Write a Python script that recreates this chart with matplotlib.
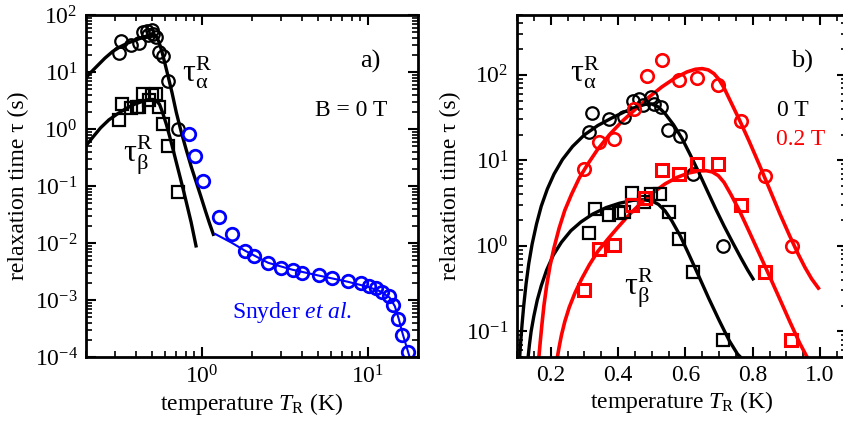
import matplotlib
matplotlib.use('Agg')
import matplotlib.pyplot as plt
from matplotlib.ticker import (LogLocator, NullFormatter, MultipleLocator,
                               LogFormatterSciNotation, FormatStrFormatter)

plt.rcParams['font.family'] = ['Liberation Serif', 'DejaVu Serif']
plt.rcParams['mathtext.fontset'] = 'custom'
plt.rcParams['mathtext.rm'] = 'Liberation Serif'
plt.rcParams['mathtext.it'] = 'Liberation Serif:italic'
plt.rcParams['axes.unicode_minus'] = False

# ---- data: B = 0 T (both panels) ----
T0_circ = [0.314, 0.324, 0.374, 0.419, 0.444, 0.463, 0.473, 0.498, 0.508, 0.528, 0.548, 0.583, 0.622, 0.712]
tau0_circ = [21.5, 35.4, 30.3, 31.8, 49.9, 52, 44, 55, 46, 41.7, 22.5, 19.3, 6.85, 1.0]
T0_sq = [0.314, 0.331, 0.374, 0.404, 0.419, 0.441, 0.476, 0.498, 0.526, 0.550, 0.581, 0.622, 0.712]
tau0_sq = [1.41, 2.7, 2.3, 2.4, 2.45, 4.1, 3.24, 3.98, 4.05, 2.47, 1.21, 0.5, 0.08]

# ---- data: B = 0.2 T ----
T2_circ = [0.299, 0.344, 0.389, 0.446, 0.486, 0.530, 0.581, 0.635, 0.697, 0.765, 0.836, 0.918]
tau2_circ = [7.83, 16.4, 17.7, 39.8, 95.6, 147, 88, 91, 76, 29, 6.5, 1.0]
T2_sq = [0.299, 0.344, 0.389, 0.441, 0.480, 0.530, 0.581, 0.635, 0.697, 0.765, 0.836, 0.914]
tau2_sq = [0.30, 0.91, 1.03, 2.98, 3.64, 7.7, 7.0, 9.1, 9.1, 3.0, 0.5, 0.08]

# ---- fit curves, panel b ----
fitA0_T = [0.108, 0.111, 0.115, 0.120, 0.127, 0.135, 0.145, 0.158, 0.172, 0.190, 0.210, 0.235,
           0.265, 0.300, 0.340, 0.380, 0.420, 0.455, 0.480, 0.500, 0.520, 0.540, 0.565, 0.590,
           0.615, 0.640, 0.665, 0.690, 0.715, 0.740, 0.765, 0.785, 0.801]
fitA0_tau = [0.05, 0.075, 0.12, 0.2, 0.36, 0.62, 1.05, 1.8, 2.9, 4.6, 6.9, 10.2,
             14.5, 19.8, 25.5, 31, 37, 42, 45, 45.5, 42, 35, 26, 18,
             11.5, 7.2, 4.4, 2.7, 1.7, 1.1, 0.72, 0.52, 0.41]
fitA2_T = [0.165, 0.169, 0.174, 0.180, 0.188, 0.198, 0.210, 0.225, 0.242, 0.262, 0.285, 0.310,
           0.340, 0.375, 0.410, 0.450, 0.490, 0.530, 0.570, 0.605, 0.630, 0.650, 0.668, 0.685,
           0.700, 0.715, 0.735, 0.760, 0.790, 0.820, 0.850, 0.880, 0.910, 0.935, 0.955, 0.975, 0.995]
fitA2_tau = [0.05, 0.075, 0.12, 0.2, 0.34, 0.58, 0.95, 1.6, 2.6, 4.0, 6.2, 9.0,
             13.5, 20, 28, 39, 54, 72, 92, 108, 116, 118, 114, 103,
             88, 70, 48, 30, 16.5, 8.8, 4.6, 2.4, 1.3, 0.8, 0.56, 0.41, 0.32]
fitB0_T = [0.133, 0.137, 0.142, 0.150, 0.160, 0.172, 0.188, 0.208, 0.232, 0.260, 0.290, 0.325,
           0.365, 0.405, 0.445, 0.475, 0.500, 0.520, 0.540, 0.560, 0.585, 0.610, 0.640, 0.670,
           0.700, 0.730, 0.755, 0.775]
fitB0_tau = [0.05, 0.07, 0.10, 0.15, 0.23, 0.34, 0.52, 0.78, 1.1, 1.5, 1.9, 2.35,
             2.8, 3.15, 3.4, 3.45, 3.35, 3.05, 2.55, 1.95, 1.3, 0.8, 0.44, 0.24,
             0.135, 0.078, 0.054, 0.045]
fitB2_T = [0.220, 0.225, 0.232, 0.242, 0.255, 0.272, 0.292, 0.315, 0.340, 0.370, 0.400, 0.435,
           0.470, 0.505, 0.540, 0.575, 0.610, 0.640, 0.662, 0.680, 0.698, 0.715, 0.735, 0.760,
           0.790, 0.820, 0.850, 0.880, 0.910, 0.940, 0.965]
fitB2_tau = [0.05, 0.065, 0.09, 0.13, 0.19, 0.28, 0.41, 0.6, 0.86, 1.2, 1.65, 2.35,
             3.2, 4.2, 5.3, 6.3, 7.1, 7.5, 7.55, 7.3, 6.6, 5.5, 4.0, 2.6,
             1.45, 0.8, 0.44, 0.24, 0.13, 0.072, 0.047]

# ---- fit curves, panel a ----
fitA_left_T = [0.198, 0.215, 0.235, 0.26, 0.29, 0.32, 0.355, 0.39, 0.425, 0.46, 0.49, 0.51, 0.53,
               0.55, 0.575, 0.60, 0.63, 0.66, 0.70, 0.75, 0.80, 0.86, 0.92, 0.98, 1.05, 1.11, 1.17]
fitA_left_tau = [7.74, 10, 13, 17.5, 23, 27.5, 32, 35.5, 39, 42.5, 45, 45.5, 42,
                 34, 22, 13.5, 7.6, 4.3, 1.95, 0.88, 0.45, 0.22, 0.12, 0.068, 0.036, 0.022, 0.0142]
fitB_left_T = [0.198, 0.22, 0.245, 0.275, 0.31, 0.35, 0.39, 0.43, 0.47, 0.505, 0.53, 0.555, 0.58,
               0.61, 0.64, 0.67, 0.70, 0.74, 0.78, 0.82, 0.86, 0.92]
fitB_left_tau = [0.49, 0.72, 1.05, 1.45, 1.85, 2.3, 2.7, 3.0, 3.25, 3.3, 3.15, 2.7, 1.9,
                 1.2, 0.72, 0.43, 0.26, 0.138, 0.075, 0.041, 0.023, 0.0089]

# ---- Snyder et al. ----
snyder_T = [0.838, 0.907, 1.009, 1.273, 1.513, 1.82, 2.046, 2.50, 3.01, 3.53, 4.02, 5.07, 6.05,
            7.6, 9.07, 10.1, 11.1, 12.2, 13.3, 14.2, 15.1, 16.0, 17.4]
snyder_tau = [0.805, 0.336, 0.122, 0.029, 0.0142, 0.0073, 0.0059, 0.0044, 0.0036, 0.00336,
              0.00302, 0.00275, 0.00247, 0.00215, 0.00196, 0.00176, 0.0016, 0.0014, 0.00117,
              0.00082, 0.00046, 0.00024, 0.000124]
snyder_line_T = [1.2, 1.5, 1.82, 2.5, 3.5, 5.0, 7.5, 10, 12, 13.5, 14.5, 15.3, 16.2, 17.8]
snyder_line_tau = [0.0144, 0.0102, 0.0073, 0.0045, 0.0034, 0.0027, 0.0021, 0.0017, 0.0014,
                   0.0011, 0.00078, 0.00047, 0.00025, 0.0001]

BLUE = '#0000ff'
RED = '#ff0000'
FS = 17
circ = dict(marker='o', mfc='none', ms=9, mew=1.6, ls='none')
sq = dict(marker='s', mfc='none', ms=8, mew=1.6, ls='none')
TAU_A = r'$\mathrm{\tau}_{\mathrm{\alpha}}^{\mathrm{R}}$'
TAU_B = r'$\mathrm{\tau}_{\mathrm{\beta}}^{\mathrm{R}}$'


def style_axis(ax):
    for s in ax.spines.values():
        s.set_linewidth(2)
    ax.tick_params(which='both', direction='in', top=True, right=True, labelsize=FS)
    ax.tick_params(which='major', length=7, width=1.5, pad=6)
    ax.tick_params(which='minor', length=4, width=1.2)
    ax.set_xlabel(r'temperature $T_{\mathrm{R}}$ (K)', fontsize=FS, labelpad=2)
    ax.set_ylabel(u'relaxation time \u03c4 (s)', fontsize=FS, labelpad=4)


fig = plt.figure(figsize=(8.43, 4.32), dpi=100)
ax1 = fig.add_axes([86 / 843, 75 / 432, 332 / 843, 342 / 432])
ax2 = fig.add_axes([517 / 843, 75 / 432, 330 / 843, 342 / 432])

# panel a
ax1.plot(fitA_left_T, fitA_left_tau, color='k', lw=2.4)
ax1.plot(fitB_left_T, fitB_left_tau, color='k', lw=2.4)
ax1.plot(snyder_line_T, snyder_line_tau, color=BLUE, lw=1.5)
ax1.plot(T0_circ, tau0_circ, mec='k', **circ)
ax1.plot(T0_sq, tau0_sq, mec='k', **sq)
ax1.plot(snyder_T, snyder_tau, mec=BLUE, **dict(circ, mew=2.0))
ax1.set_xscale('log')
ax1.set_yscale('log')
ax1.set_xlim(0.2, 20)
ax1.set_ylim(1e-4, 1e2)
ax1.xaxis.set_major_locator(LogLocator(base=10))
ax1.xaxis.set_minor_locator(LogLocator(base=10, subs=range(2, 10)))
ax1.yaxis.set_major_locator(LogLocator(base=10, numticks=20))
ax1.yaxis.set_minor_locator(LogLocator(base=10, subs=range(2, 10), numticks=20))
ax1.xaxis.set_major_formatter(LogFormatterSciNotation())
ax1.xaxis.set_minor_formatter(NullFormatter())
ax1.yaxis.set_minor_formatter(NullFormatter())
style_axis(ax1)

ax1.text(0.855, 0.865, 'a)', transform=ax1.transAxes, fontsize=FS + 2, ha='center', va='center')
ax1.text(0.80, 0.72, 'B = 0 T', transform=ax1.transAxes, fontsize=FS, ha='center', va='center')
ax1.text(0.335, 0.83, TAU_A, transform=ax1.transAxes, fontsize=FS + 6, ha='center', va='center')
ax1.text(0.155, 0.59, TAU_B, transform=ax1.transAxes, fontsize=FS + 6, ha='center', va='center')
ax1.text(0.62, 0.13, r'Snyder $\mathit{et\ al.}$', transform=ax1.transAxes, fontsize=FS,
         ha='center', va='center', color=BLUE)

# panel b
ax2.plot(fitA0_T, fitA0_tau, color='k', lw=2.4)
ax2.plot(fitB0_T, fitB0_tau, color='k', lw=2.4)
ax2.plot(fitA2_T, fitA2_tau, color=RED, lw=2.6)
ax2.plot(fitB2_T, fitB2_tau, color=RED, lw=2.6)
ax2.plot(T0_circ, tau0_circ, mec='k', **circ)
ax2.plot(T0_sq, tau0_sq, mec='k', **sq)
ax2.plot(T2_circ, tau2_circ, mec=RED, **dict(circ, mew=1.9))
ax2.plot(T2_sq, tau2_sq, mec=RED, **dict(sq, mew=2.2))
ax2.set_yscale('log')
ax2.set_xlim(0.1, 1.08)
ax2.set_ylim(0.05, 500)
ax2.xaxis.set_major_locator(MultipleLocator(0.2))
ax2.xaxis.set_minor_locator(MultipleLocator(0.05))
ax2.xaxis.set_major_formatter(FormatStrFormatter('%.1f'))
ax2.yaxis.set_major_locator(LogLocator(base=10, numticks=20))
ax2.yaxis.set_minor_locator(LogLocator(base=10, subs=range(2, 10), numticks=20))
ax2.yaxis.set_minor_formatter(NullFormatter())
style_axis(ax2)

ax2.text(0.865, 0.865, 'b)', transform=ax2.transAxes, fontsize=FS + 2, ha='center', va='center')
ax2.text(0.835, 0.72, '0 T', transform=ax2.transAxes, fontsize=FS, ha='center', va='center')
ax2.text(0.86, 0.635, '0.2 T', transform=ax2.transAxes, fontsize=FS, ha='center', va='center',
         color=RED)
ax2.text(0.205, 0.83, TAU_A, transform=ax2.transAxes, fontsize=FS + 6, ha='center', va='center')
ax2.text(0.37, 0.2, TAU_B, transform=ax2.transAxes, fontsize=FS + 6, ha='center', va='center')

fig.savefig('out.png', dpi=100)
plt.close(fig)
